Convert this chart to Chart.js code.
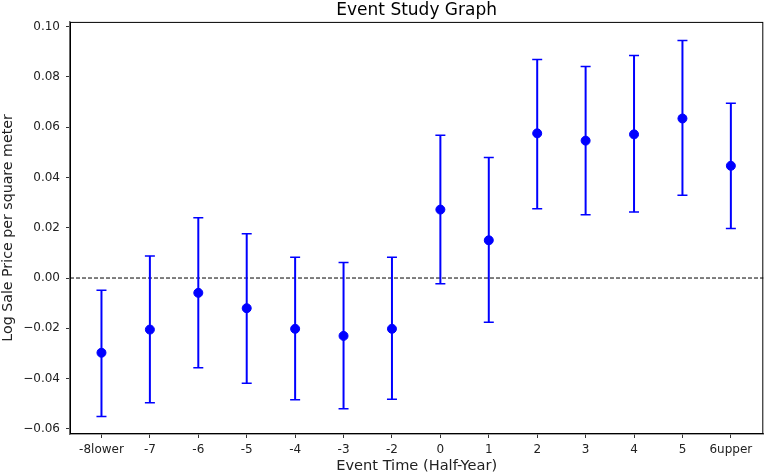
<!DOCTYPE html>
<html>
<head>
<meta charset="utf-8">
<script src="https://cdn.jsdelivr.net/npm/chart.js@4"></script>
<style>
  html, body { margin: 0; padding: 0; background: #fff; }
  #wrap { width: 765px; height: 476px; }
</style>
</head>
<body>
<div id="wrap"><canvas id="chart"></canvas></div>
<script>
var eventLabels = ['-8lower', '-7', '-6', '-5', '-4', '-3', '-2', '0', '1', '2', '3', '4', '5', '6upper'];
var estimates = [-0.0297, -0.0205, -0.0059, -0.0120, -0.0202, -0.0230, -0.0202, 0.0272, 0.0150, 0.0575, 0.0546, 0.0571, 0.0634, 0.0446];
var lowerCI = [-0.0550, -0.0496, -0.0357, -0.0418, -0.0484, -0.0520, -0.0482, -0.0023, -0.0176, 0.0275, 0.0251, 0.0262, 0.0329, 0.0197];
var upperCI = [-0.0049, 0.0088, 0.0240, 0.0176, 0.0083, 0.0062, 0.0083, 0.0567, 0.0479, 0.0869, 0.0841, 0.0884, 0.0944, 0.0695];
var yTicks = [-0.06, -0.04, -0.02, 0.00, 0.02, 0.04, 0.06, 0.08, 0.10];

var points = [];
for (var i = 0; i < eventLabels.length; i++) {
    points.push({ x: i, y: estimates[i] });
}

// error bars, zero line and frame drawn with the chart's own scales
var errorBars = {
    id: 'errorBars',
    beforeDatasetsDraw: function(chart) {
        var ctx = chart.ctx;
        var xs = chart.scales.x, ys = chart.scales.y;
        var area = chart.chartArea;
        ctx.save();
        // zero line
        ctx.strokeStyle = '#000';
        ctx.lineWidth = 1;
        ctx.setLineDash([4, 2]);
        ctx.beginPath();
        ctx.moveTo(area.left, ys.getPixelForValue(0));
        ctx.lineTo(area.right, ys.getPixelForValue(0));
        ctx.stroke();
        ctx.setLineDash([]);
        // bars
        ctx.strokeStyle = '#0000ff';
        for (var i = 0; i < eventLabels.length; i++) {
            var px = xs.getPixelForValue(i);
            var lo = ys.getPixelForValue(lowerCI[i]);
            var hi = ys.getPixelForValue(upperCI[i]);
            ctx.lineWidth = 2;
            ctx.beginPath();
            ctx.moveTo(px, lo);
            ctx.lineTo(px, hi);
            ctx.stroke();
            ctx.lineWidth = 1.5;
            ctx.beginPath();
            ctx.moveTo(px - 5, lo); ctx.lineTo(px + 5, lo);
            ctx.moveTo(px - 5, hi); ctx.lineTo(px + 5, hi);
            ctx.stroke();
        }
        // frame
        ctx.strokeStyle = '#000';
        ctx.lineWidth = 1;
        ctx.strokeRect(area.left + 0.5, area.top + 0.5, area.right - area.left - 1, area.bottom - area.top - 1);
        ctx.restore();
    }
};

new Chart(document.getElementById('chart'), {
    type: 'scatter',
    data: {
        datasets: [{
            data: points,
            backgroundColor: '#0000ff',
            borderColor: '#0000ff',
            pointRadius: 4.5,
            pointHoverRadius: 4.5,
            showLine: false
        }]
    },
    options: {
        responsive: true,
        maintainAspectRatio: false,
        animation: false,
        events: [],
        layout: { autoPadding: false, padding: { left: 0, right: 1.7, top: 0, bottom: 0 } },
        plugins: {
            legend: { display: false },
            tooltip: { enabled: false },
            title: {
                display: true,
                text: 'Event Study Graph',
                fullSize: false,
                color: '#000',
                font: { family: 'DejaVu Sans', size: 17, weight: 'normal' },
                padding: { top: 0, bottom: 1.5 }
            }
        },
        scales: {
            x: {
                type: 'linear',
                min: -0.65,
                max: 13.67,
                afterFit: function(s) { s.height = 42; },
                afterBuildTicks: function(s) {
                    s.ticks = eventLabels.map(function(l, i) { return { value: i }; });
                },
                ticks: {
                    autoSkip: false,
                    maxRotation: 0,
                    padding: 5,
                    color: '#222',
                    font: { family: 'DejaVu Sans', size: 12 },
                    callback: function(v) { return eventLabels[v]; }
                },
                grid: { display: true, drawOnChartArea: false, drawTicks: true, tickLength: 4, tickColor: '#333' },
                border: { display: true, color: '#444', width: 1.5 },
                title: {
                    display: true,
                    text: 'Event Time (Half-Year)',
                    color: '#222',
                    font: { family: 'DejaVu Sans', size: 14.6 },
                    padding: { top: 0, bottom: 1 }
                }
            },
            y: {
                min: -0.062,
                max: 0.1018,
                afterFit: function(s) { s.width = 70; },
                afterBuildTicks: function(s) {
                    s.ticks = yTicks.map(function(v) { return { value: v }; });
                },
                ticks: {
                    padding: 6,
                    color: '#222',
                    font: { family: 'DejaVu Sans', size: 12 },
                    callback: function(v) {
                        var t = Math.abs(v).toFixed(2);
                        return v < -1e-9 ? '\u2212' + t : t;
                    }
                },
                grid: { display: true, drawOnChartArea: false, drawTicks: true, tickLength: 4, tickColor: '#333' },
                border: { display: true, color: '#666', width: 1.5 },
                title: {
                    display: true,
                    text: 'Log Sale Price per square meter',
                    color: '#222',
                    font: { family: 'DejaVu Sans', size: 14.2 },
                    padding: { top: 0, bottom: 0 }
                }
            }
        }
    },
    plugins: [errorBars]
});
</script>
</body>
</html>
